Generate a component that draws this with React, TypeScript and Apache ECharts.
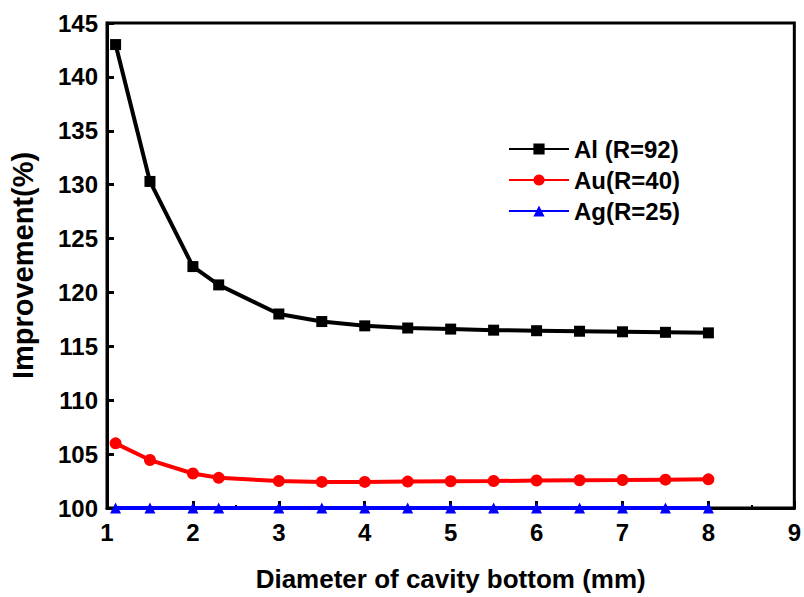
import React, { useEffect, useRef } from "react";
import * as echarts from "echarts";

const diameters = [1.1, 1.5, 2, 2.3, 3, 3.5, 4, 4.5, 5, 5.5, 6, 6.5, 7, 7.5, 8];
const alValues = [143.0, 130.3, 122.4, 120.7, 118.0, 117.3, 116.9, 116.7, 116.6, 116.5, 116.45, 116.4, 116.35, 116.3, 116.25];
const auValues = [106.0, 104.45, 103.2, 102.8, 102.5, 102.42, 102.42, 102.45, 102.48, 102.5, 102.55, 102.58, 102.6, 102.63, 102.66];
const agValues = [100, 100, 100, 100, 100, 100, 100, 100, 100, 100, 100, 100, 100, 100, 100];
const seriesNames = ["Al (R=92)", "Au(R=40)", "Ag(R=25)"];
const seriesColors = ["#000000", "#ff0000", "#0000ff"];
const seriesSymbols = ["rect", "circle", "triangle"];

const pair = (vals: number[]) => diameters.map((d, i) => [d, vals[i]]);

export default function App() {
  const ref = useRef<HTMLDivElement>(null);
  useEffect(() => {
    if (!ref.current) return;
    const chart = echarts.init(ref.current, null, { renderer: "svg" });
    const font = "Liberation Sans, Arial, sans-serif";
    const datasets = [alValues, auValues, agValues];
    chart.setOption({
      animation: false,
      grid: {
        left: 107,
        right: 6,
        top: 23,
        bottom: 85,
        show: true,
        borderColor: "#000",
        borderWidth: 3,
        backgroundColor: "transparent",
      },
      legend: {
        left: 503,
        top: 132,
        orient: "vertical",
        itemWidth: 60,
        itemHeight: 14,
        itemGap: 7,
        textStyle: { fontFamily: font, fontWeight: "bold", fontSize: 24, color: "#000" },
        data: seriesNames,
      },
      xAxis: {
        type: "value",
        min: 1,
        max: 9,
        interval: 1,
        axisLine: { show: true, lineStyle: { color: "#000", width: 3 } },
        axisTick: { show: true, inside: true, length: 7, lineStyle: { color: "#000", width: 3 } },
        minorTick: { show: true, splitNumber: 2, length: 3, lineStyle: { color: "#000", width: 2 } },
        splitLine: { show: false },
        axisLabel: { fontFamily: font, fontWeight: "bold", fontSize: 24, color: "#000", margin: 12 },
        name: "Diameter of cavity bottom (mm)",
        nameLocation: "middle",
        nameGap: 58,
        nameTextStyle: { fontFamily: font, fontWeight: "bold", fontSize: 26, color: "#000" },
      },
      yAxis: {
        type: "value",
        min: 100,
        max: 145,
        interval: 5,
        axisLine: { show: true, lineStyle: { color: "#000", width: 3 } },
        axisTick: { show: true, inside: true, length: 7, lineStyle: { color: "#000", width: 3 } },
        splitLine: { show: false },
        axisLabel: { fontFamily: font, fontWeight: "bold", fontSize: 24, color: "#000", margin: 9 },
        name: "Improvement(%)",
        nameLocation: "middle",
        nameGap: 70,
        nameTextStyle: { fontFamily: font, fontWeight: "bold", fontSize: 29, color: "#000" },
      },
      series: datasets.map((vals, i) => ({
        name: seriesNames[i],
        type: "line",
        data: pair(vals),
        symbol: seriesSymbols[i],
        symbolSize: i === 1 ? 12 : 11,
        showAllSymbol: true,
        lineStyle: { color: seriesColors[i], width: 4 },
        itemStyle: { color: seriesColors[i] },
        z: 5 - i,
      })),
    });
    return () => chart.dispose();
  }, []);
  return <div ref={ref} style={{ width: 804, height: 597, position: "absolute", left: 0, top: 0 }} />;
}
